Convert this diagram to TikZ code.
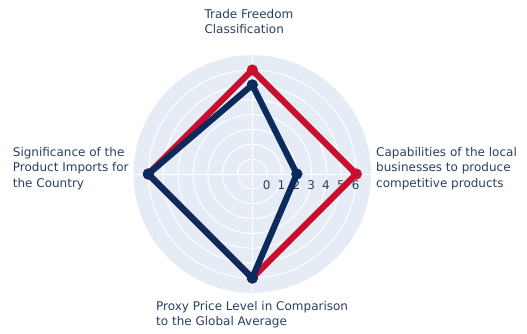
\documentclass[tikz,border=0pt]{standalone}
\usepackage{fontspec}
\setmainfont{DejaVu Sans}
\definecolor{bgpolar}{HTML}{E5ECF6}
\definecolor{txt}{HTML}{2A3F5F}
\definecolor{redser}{HTML}{C8102E}
\definecolor{blueser}{HTML}{0C2A5B}
\newcommand{\mylines}[1]{\begin{tabular}[t]{@{}l@{}}#1\end{tabular}}
\begin{document}
\begin{tikzpicture}[x=1pt,y=1pt,
  font=\fontsize{12}{15.6}\selectfont,
  lbl/.style={anchor=base west, inner sep=0pt, text=txt},
  ticklbl/.style={anchor=base, inner sep=0pt, text=txt},
  gridline/.style={white, line width=1pt},
  serline/.style={line width=6.2pt, line join=miter},
  redpt/.style={circle, fill=redser, minimum size=11pt, inner sep=0pt},
  bluept/.style={circle, fill=blueser, minimum size=11pt, inner sep=0pt}]
\useasboundingbox (0,0) rectangle (527,333);
\coordinate (O) at (252.3,159);
\fill[bgpolar] (O) circle (118.8);
\foreach \v in {0,...,6} \draw[gridline] (O) circle ({(\v+1)*14.85});
\draw[gridline] (O) ++(-118.8,0) -- ++(237.6,0);
\draw[gridline] (O) ++(0,-118.8) -- ++(0,237.6);
\foreach \v in {0,...,6} \node[ticklbl] (t\v) at ({252.3+(\v+1)*14.85-0.5}, 143.7) {\v};
\begin{scope}[shift={(O)}]
  \node[redpt] (r1) at (90:{7*14.85}) {};
  \node[redpt] (r2) at (180:{7*14.85}) {};
  \node[redpt] (r3) at (270:{7*14.85}) {};
  \node[redpt] (r4) at (0:{7*14.85}) {};
  \draw[serline, redser] (r1.center) -- (r2.center) -- (r3.center) -- (r4.center) -- cycle;
  \node[redpt] at (r1) {};
  \node[redpt] at (r2) {};
  \node[redpt] at (r3) {};
  \node[redpt] at (r4) {};
  \node[bluept] (b1) at (90:{6*14.85}) {};
  \node[bluept] (b2) at (180:{7*14.85}) {};
  \node[bluept] (b3) at (270:{7*14.85}) {};
  \node[bluept] (b4) at (0:{3*14.85}) {};
  \draw[serline, blueser] (b1.center) -- (b2.center) -- (b3.center) -- (b4.center) -- cycle;
  \node[bluept] at (b1) {};
  \node[bluept] at (b2) {};
  \node[bluept] at (b3) {};
  \node[bluept] at (b4) {};
\end{scope}
\node[lbl] (ltop) at (204.3,314.7) {\mylines{Trade Freedom\\Classification}};
\node[lbl] (lleft) at (12.7,177) {\mylines{Significance of the\\Product Imports for\\the Country}};
\node[lbl] (lright) at (376,177) {\mylines{Capabilities of the local\\businesses to produce\\competitive products}};
\node[lbl] (lbottom) at (156,23) {\mylines{Proxy Price Level in Comparison\\to the Global Average}};
\end{tikzpicture}
\end{document}
